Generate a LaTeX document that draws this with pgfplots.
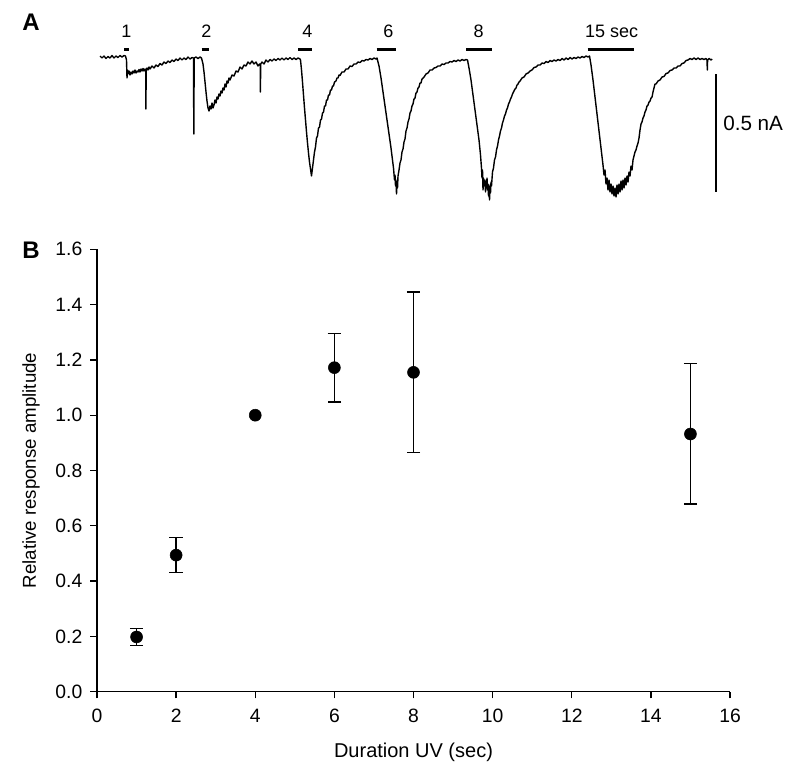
\documentclass[border=0pt]{standalone}
\usepackage{fontspec}
\setmainfont{Liberation Sans}
\usepackage{pgfplots}
\pgfplotsset{compat=1.18}
\begin{document}
\begin{tikzpicture}[x=0.75pt,y=-0.75pt]
\useasboundingbox (0,0) rectangle (798,778);
% ---------------- Panel A: current trace (x: time, y: downward current, picture units)
\begin{axis}[at={(67.5pt,0pt)}, anchor=north west, scale only axis,
  width=531pt, height=161.25pt, xmin=90, xmax=798, ymin=0, ymax=215,
  y dir=reverse, hide axis, clip=false]
\addplot[black, line width=1.05pt, line join=round] coordinates {
(100,56)(102,58)(104,56)(106,58.5)(108,56.5)(110,58)(112,55.5)(114,58)(116,56)(118,57.5)(120,55.5)(122,57)(124,55.5)(125.5,56)
(126.5,60)(127,78)(127.5,70)(128,74)(129,71)(130,75)(131,72)(132,74)(133,71)(134,73)(135,70)(136,73)(137,71)(138,72)(139,69.5)(140,72)(141,69)(142,71)(143,68.5)(144,71)(145,69)(145.7,70)(145.9,109)(146.2,70)
(147,68)(148,70)(149,67)(150,69)(152,66)(154,68)(156,65)(158,66.5)(160,63.5)(162,65)(164,62)(166,63.5)(168,61)(170,62.5)(172,60)(174,61.5)(176,59)(178,60.5)(180,58)(182,60)(184,58)(186,59.5)(188,57)(190,59)(192,57.5)(193.5,58)(193.8,134)(194.2,58)(196,57)(198,58.5)(200,57)(201.5,58)
(203,64)(204,72)(205,82)(206,92)(207,101)(208,108)(209,111)(210,106)(211,109)(212,103)(213,108)(214,105)(215,100)(216,103)(217,97)(218,99)(219,94)(220,96)(221,91)(222,93)(223,88)(224,90)(225,84)(226,87)(227,81)(228,83)(229,78)(230,80)(232,75)(234,76)(236,71)(238,72)(240,67)(242,69)(244,65)(246,66)(248,62)(250,64)(252,61)(254,64)(256,62)(258,66)(259.5,64)(260.2,65)(260.4,92)(260.7,64)
(262,62)(264,64)(266,60)(268,62)(270,59.5)(272,61)(274,59)(276,60.5)(278,58.5)(280,60)(282,58)(284,60)(286,58)(288,59.5)(290,57.5)(292,59.5)(294,58)(296,59.5)(298,58)(300,59)
(300.5,60)(301.5,70)(302.5,82)(303.5,95)(304.5,108)(305.5,120)(306.5,132)(307.5,143)(308.5,153)(309.5,162)(310.5,169)(311.5,176)(312,172)(312.5,168)
(313.5,160)(314.5,152)(315.5,147)(316.5,138)(317.5,136)(318.5,128)(319.5,127)(320.5,120)(321.5,119)(322.5,113)(323.5,112)(324.5,106)(325.5,106)(326.5,100)(327.5,100)(328.5,95)(329.5,95)(330.5,90)(331.5,90)(332.5,86)(333.5,86)(334.5,82)(336,81)(337,78)(338,78)(339,75)(340,75.5)(342,72)(344,72)(346,69)(348,69)(350,66)(352,66.5)(354,64)(356,64)(358,62)(360,62.5)(362,60.5)(364,61)(366,59.5)(368,60)(370,58.5)(372,59.5)(374,58)(376,59)(377,58)
(379,66)(381,78)(383,92)(385,106)(387,120)(389,134)(391,148)(392.5,160)(393.5,168)(394.5,180)(395,175)(395.5,186)(396,180)(396.5,194)(397,182)(397.5,188)(398,176)
(399,170)(400,163)(401,160)(402,152)(403,149)(404,142)(405,139)(406,131)(407,128)(408,122)(409,119)(410,113)(411,111)(412,106)(413,104)(414,99)(415,98)(416,93)(417,92)(418,88)(419,87)(420,83)(421,83)(422,79)(424,77)(426,74)(428,73)(430,70)(432,70)(434,68)(436,67.5)(438,66)(440,66)(442,64)(444,64.5)(446,63)(448,63)(450,61.5)(452,62)(454,60.5)(456,61.5)(458,60)(460,61)(462,59.5)(464,60.5)(466,59.5)(467.5,60)
(469,68)(471,80)(473,95)(475,110)(477,125)(479,140)(480.5,155)(481.5,168)(482,178)(482.5,170)(483,190)(483.5,178)(484,186)(485,180)(485.5,192)(486,182)(486.5,188)(487,178)(487.5,190)(488,184)(488.5,196)(489,185)(489.5,200)(490,188)(490.5,193)(491,182)(491.5,186)
(492.5,172)(493.5,168)(494.5,160)(495.5,157)(496.5,150)(497.5,146)(498.5,140)(499.5,136)(500.5,131)(501.5,128)(502.5,123)(503.5,120)(504.5,116)(505.5,114)(506.5,110)(507.5,108)(508.5,104)(509.5,102)(510.5,99)(511.5,97)(512.5,94)(513.5,92)(515,89)(516,88)(517,85)(518,84)(519,82)(520,81)(522,78)(524,77)(526,74)(528,73)(530,71)(532,70)(534,67.5)(536,67)(538,65)(540,65)(542,63)(544,63.5)(546,61.5)(548,62.5)(550,60.5)(552,61.5)(554,60)(556,61)(558,59.5)(560,60.5)(562,58.5)(564,60)(566,58)(568,59.5)(570,57.5)(572,59)(574,57.5)(576,58.5)(578,57)(580,58)(582,56.5)(584,57.5)(586,56)(588,57)(589.5,56)
(591,65)(593,80)(595,97)(597,114)(599,131)(601,148)(603,165)(604,175)(605,170)(606,184)(607,178)(608,190)(609,180)(610,192)(611,184)(612,194)(613,186)(614,196)(615,188)(616,197)(617,185)(618,194)(619,184)(620,192)(621,181)(622,190)(623,180)(624,188)(625,178)(626,185)(627,176)(628,182)(629,172)(630,176)(631,166)(632,170)
(633,160)(634,156)(635,152)(636,150)(637,146)(638,143)(639,138)(640,130)(641,124)(642,122)(643,118)(644,116)(645,112)(646,110)(647,106)(648,105)(649,102)(650,101)(651,98)(652,97)(653,92)(654,88)(655,84)(656,84)(658,81)(660,80)(662,77)(664,76.5)(666,73.5)(668,73)(670,70.5)(672,70)(674,68)(676,68)(678,66)(680,66)(682,63.5)(684,63)(686,60.5)(688,60)(690,58.5)(692,59.5)(694,58)(696,59.5)(698,58)(700,59.5)(702,58.5)(704,59.5)(706,58.5)(707,60)(707.3,70)(707.6,60)(709,58.5)(711,60)(712,59)
};
% stimulus bars
\addplot[black, line width=2.25pt] coordinates {(124.3,49.7)(128.5,49.7)};
\addplot[black, line width=2.25pt] coordinates {(201.7,49.7)(208.5,49.7)};
\addplot[black, line width=2.25pt] coordinates {(298.3,49.7)(311.7,49.7)};
\addplot[black, line width=2.25pt] coordinates {(376.7,49.7)(396,49.7)};
\addplot[black, line width=2.25pt] coordinates {(466,49.7)(491.7,49.7)};
\addplot[black, line width=2.25pt] coordinates {(587.7,49.7)(634.3,49.7)};
% scale bar 0.5 nA
\addplot[black, line width=1.6pt] coordinates {(716,74.3)(716,191.7)};
\begin{scope}[font=\fontsize{13.5}{16}\selectfont]
\node at (axis cs:126.5,31) {1};
\node at (axis cs:206.5,31) {2};
\node at (axis cs:307.3,31) {4};
\node at (axis cs:388.3,31) {6};
\node at (axis cs:478.7,31) {8};
\node at (axis cs:611.7,31) {15 sec};
\node[anchor=west, inner sep=0pt] at (axis cs:723,123.5) {\fontsize{15.5}{18}\selectfont 0.5 nA};
\end{scope}
\end{axis}
\node[font=\bfseries\fontsize{18}{20}\selectfont] at (31,22) {A};
\node[font=\bfseries\fontsize{18}{20}\selectfont] at (31,250) {B};
% ---------------- Panel B
\begin{axis}[at={(72.75pt,-518.775pt)}, anchor=south west, scale only axis,
  width=474.75pt, height=331.8pt,
  xmin=0, xmax=16, ymin=0, ymax=1.6,
  axis lines=left, axis line style={-, line width=1pt},
  xtick={0,2,...,16}, ytick={0,0.2,0.4,0.6,0.8,1.0,1.2,1.4,1.6},
  tick align=outside, major tick length=5pt,
  tick style={line width=1pt, black},
  /pgf/number format/assume math mode=true,
  tick label style={font=\fontsize{14.5}{17}\selectfont},
  xticklabel style={yshift=-4.5pt},
  yticklabel style={xshift=-2.5pt, /pgf/number format/fixed, /pgf/number format/fixed zerofill, /pgf/number format/precision=1},
  xlabel={Duration UV (sec)}, ylabel={Relative response amplitude},
  every axis x label/.style={at={(axis description cs:0.5,-0.1363)}, anchor=center, font=\fontsize{15}{18}\selectfont},
  every axis y label/.style={at={(axis description cs:-0.1043,0.5)}, anchor=center, rotate=90, font=\fontsize{14}{16}\selectfont},
  clip=false]
\addplot[only marks, mark=*, mark size=4.5pt, black,
  error bars/.cd, y dir=both, y explicit,
  error bar style={line width=1pt, black},
  error mark options={rotate=90, mark size=5pt, line width=1pt, black}]
  table[x=x, y=y, y error plus=ep, y error minus=em] {
x  y     ep    em
1  0.198 0.031 0.032
2  0.494 0.063 0.062
6  1.172 0.124 0.124
8  1.155 0.291 0.290
15 0.932 0.256 0.253
};
\addplot[only marks, mark=*, mark size=4.5pt, black] coordinates {(4,1.0)};
\end{axis}
\end{tikzpicture}
\end{document}
